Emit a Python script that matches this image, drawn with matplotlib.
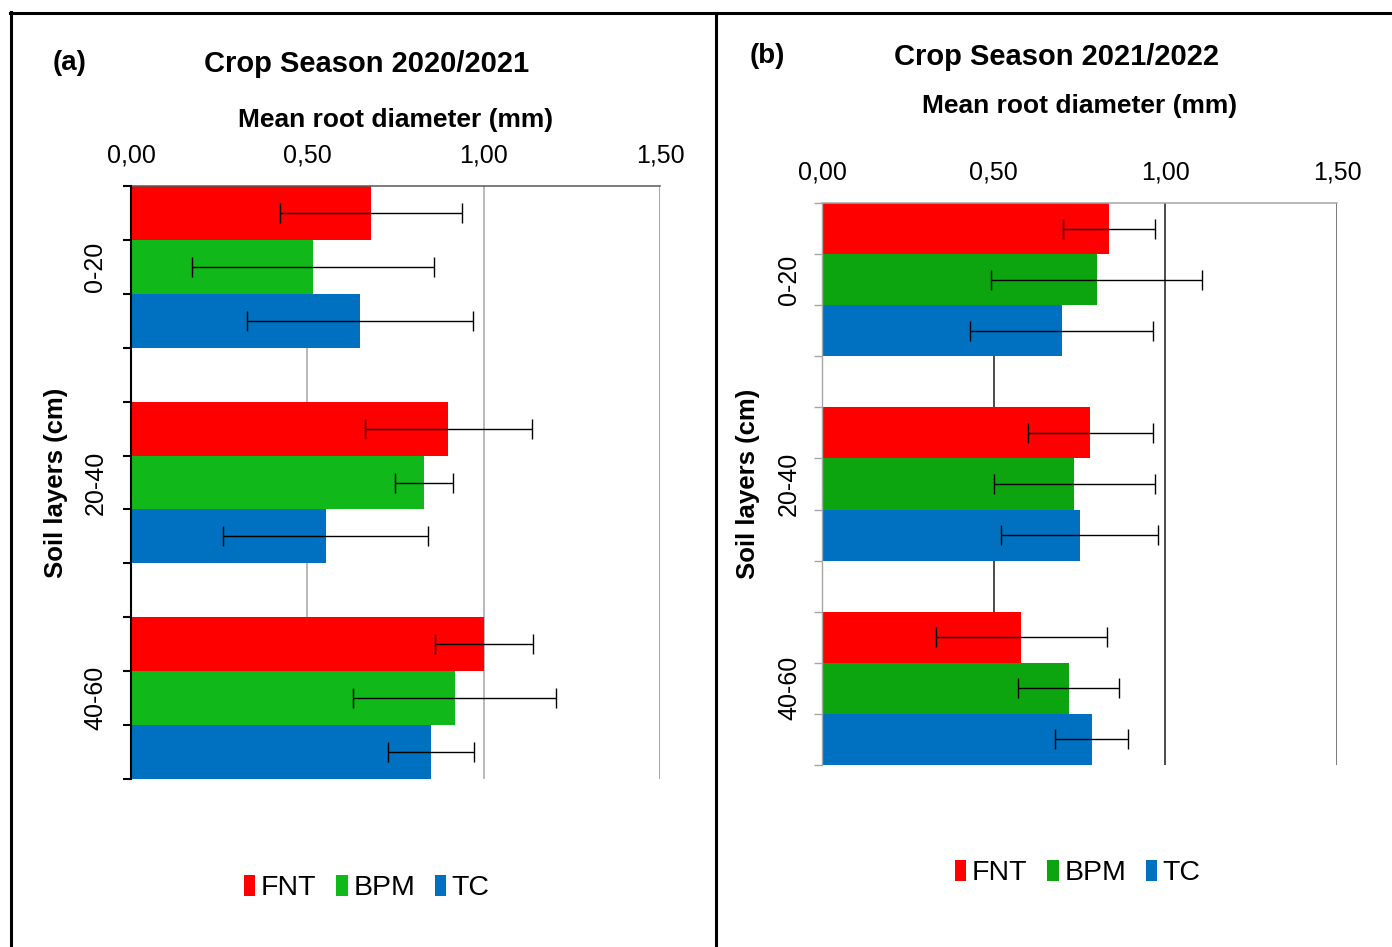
import matplotlib
matplotlib.use('Agg')
import matplotlib.pyplot as plt
from matplotlib.lines import Line2D
from matplotlib.patches import Patch

plt.rcParams['font.family'] = ['Liberation Sans', 'DejaVu Sans']

layers = ['0-20', '20-40', '40-60']
treatments = ['FNT', 'BPM', 'TC']

# season 2020/2021, mean root diameter (mm) and error
means_a = {
    'FNT': [0.68, 0.90, 1.00],
    'BPM': [0.516, 0.83, 0.918],
    'TC':  [0.649, 0.552, 0.85],
}
errs_a = {
    'FNT': [0.258, 0.237, 0.139],
    'BPM': [0.343, 0.082, 0.288],
    'TC':  [0.32, 0.29, 0.122],
}
# season 2021/2022
means_b = {
    'FNT': [0.837, 0.782, 0.581],
    'BPM': [0.80, 0.735, 0.718],
    'TC':  [0.698, 0.75, 0.785],
}
errs_b = {
    'FNT': [0.134, 0.182, 0.249],
    'BPM': [0.307, 0.235, 0.147],
    'TC':  [0.267, 0.23, 0.106],
}
xticks = [0.0, 0.5, 1.0, 1.5]
xticklabels = ['0,00', '0,50', '1,00', '1,50']

colors_a = {'FNT': '#ff0000', 'BPM': '#10b81a', 'TC': '#0070c0'}
colors_b = {'FNT': '#ff0000', 'BPM': '#0ca510', 'TC': '#0070c0'}

W, H = 1392, 947
fig = plt.figure(figsize=(W/100., H/100.), dpi=100)


def doPanel(rect, means, errs, colors, spineColor, spineWidth, tickColor,
            topColor, gridColor, lastGridColor, catPad, xlabelY, xPad):
    ax = fig.add_axes(rect)
    nSer = len(treatments)
    step = nSer + 1
    for iser, name in enumerate(treatments):
        ys = [ig*step + iser + 0.5 for ig in range(len(layers))]
        ax.barh(ys, means[name], height=1.0, color=colors[name], zorder=2)
        ax.errorbar(means[name], ys, xerr=errs[name], fmt='none',
                    ecolor='black', elinewidth=1.0, capsize=7, capthick=1.0,
                    zorder=3)
    nUnits = len(layers)*step - 1
    ax.set_ylim(nUnits, 0)
    ax.set_xlim(0, 1.5)
    ax.set_yticks(range(nUnits + 1))
    ax.set_yticklabels([])
    ax.set_yticks([ig*step + nSer/2. for ig in range(len(layers))], minor=True)
    ax.set_yticklabels(layers, minor=True, rotation=90, va='center', fontsize=18)
    ax.tick_params(axis='y', which='major', length=5.5, width=spineWidth,
                   color=tickColor, direction='out')
    ax.tick_params(axis='y', which='minor', length=0, pad=catPad)
    ax.xaxis.tick_top()
    ax.set_xticks(xticks)
    ax.set_xticklabels(xticklabels, fontsize=18)
    ax.tick_params(axis='x', length=0, pad=xPad)
    ax.xaxis.set_label_position('top')
    ax.set_xlabel('Mean root diameter (mm)', fontsize=19, fontweight='bold')
    ax.xaxis.set_label_coords(0.5, xlabelY)
    ax.set_ylabel('Soil layers (cm)', fontsize=18.5, fontweight='bold')
    ax.yaxis.set_label_coords(-0.12, 0.5)
    ax.set_axisbelow(True)
    ax.grid(axis='x', color=gridColor, linewidth=1.1)
    ax.xaxis.get_gridlines()[-1].set_color(lastGridColor)
    ax.xaxis.get_gridlines()[0].set_visible(False)
    ax.spines['right'].set_visible(False)
    ax.spines['bottom'].set_visible(False)
    ax.spines['left'].set_color(spineColor)
    ax.spines['left'].set_linewidth(spineWidth)
    ax.spines['left'].set_zorder(4)
    ax.spines['top'].set_color(topColor)
    ax.spines['top'].set_linewidth(1.1)
    return ax


# panel positions from pixel boxes
axA = doPanel([131./W, 1-779./H, 529./W, 593./H], means_a, errs_a, colors_a,
              'black', 1.5, 'black', '#595959', '#a6a6a6', '#8c8c8c', 17, 1.0995, 13)
axB = doPanel([822./W, 1-765./H, 515./W, 562./H], means_b, errs_b, colors_b,
              '#a6a6a6', 1.0, '#a6a6a6', '#a6a6a6', '#1a1a1a', '#595959', 15, 1.160, 13.5)

fig.text(53./W, 1-63./H, '(a)', fontsize=20, fontweight='bold', ha='left', va='center')
fig.text(367./W, 1-64./H, 'Crop Season 2020/2021', fontsize=21, fontweight='bold',
         ha='center', va='center')
fig.text(750./W, 1-56./H, '(b)', fontsize=20, fontweight='bold', ha='left', va='center')
fig.text(1057./W, 1-57./H, 'Crop Season 2021/2022', fontsize=21, fontweight='bold',
         ha='center', va='center')

legFont = {'family': ['Liberation Sans Narrow', 'Liberation Sans'], 'size': 20.5}
for colors, cx, cy in [(colors_a, 367., 888.), (colors_b, 1078., 873.)]:
    handles = [Patch(facecolor=colors[n], edgecolor='none') for n in treatments]
    fig.legend(handles, treatments, loc='center', bbox_to_anchor=(cx/W, 1-cy/H),
               ncol=3, frameon=False, prop=legFont, handlelength=0.39,
               handleheight=0.77, handletextpad=0.2, columnspacing=0.7,
               borderpad=0, borderaxespad=0)

# outer frame lines
frameKw = dict(color='black', linewidth=2.2, transform=fig.transFigure)
fig.add_artist(Line2D([11./W, 11./W], [0, 1-12./H], **frameKw))
fig.add_artist(Line2D([10./W, 1.0], [1-13./H, 1-13./H], **frameKw))
fig.add_artist(Line2D([716./W, 716./W], [0, 1-13./H], **frameKw))

fig.savefig('out.png', dpi=100)
